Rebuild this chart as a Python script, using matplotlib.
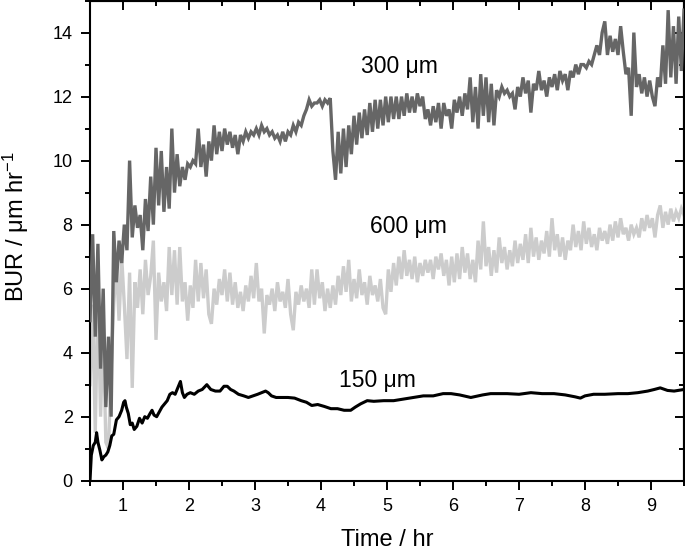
import numpy as np
import matplotlib
matplotlib.use("Agg")
import matplotlib.pyplot as plt
from matplotlib.ticker import MultipleLocator

plt.rcParams['font.family'] = ['Liberation Sans', 'DejaVu Sans']
plt.rcParams['mathtext.fontset'] = 'custom'
plt.rcParams['mathtext.rm'] = 'Liberation Sans'
plt.rcParams['mathtext.it'] = 'Liberation Sans:italic'

# ---------------- data ----------------
# sampling grid for the two noisy series (hours)
t_grid = np.round(np.arange(0.5, 9.5001, 0.04), 2)

bur_300 = [
    5.0, 7.7, 4.5, 7.4, 3.5, 6.0, 2.3, 4.5, 2.0, 7.8,
    6.2, 7.5, 6.8, 8.0, 7.2, 10.0, 7.6, 8.6, 7.9, 8.3,
    7.2, 8.8, 7.8, 9.5, 8.0, 10.4, 8.6, 10.3, 8.4, 9.8,
    8.5, 11.0, 9.0, 10.2, 9.2, 9.8, 9.4, 9.9, 9.8, 10.0,
    9.9, 11.0, 9.8, 10.5, 9.5, 10.6, 10.0, 11.1, 10.2, 10.9,
    10.3, 11.0, 10.5, 10.9, 10.4, 10.8, 10.2, 10.8, 10.6, 10.9,
    10.7, 10.9, 10.8, 11.0, 10.8, 11.1, 10.9, 11.0, 10.8, 10.9,
    10.7, 10.8, 10.6, 10.9, 10.6, 10.9, 10.8, 11.1, 10.9, 11.2,
    11.1, 11.4, 11.6, 11.9, 11.7, 11.8, 11.8, 11.9, 11.7, 11.9,
    11.8, 11.95, 10.3, 9.4, 10.9, 9.6, 11.0, 9.8, 11.1, 10.2,
    11.4, 10.5, 11.5, 10.7, 11.6, 10.8, 11.8, 10.9, 11.9, 11.0,
    11.9, 11.1, 12.0, 11.2, 12.0, 11.3, 12.0, 11.3, 12.0, 11.4,
    12.1, 11.5, 12.0, 11.5, 12.1, 11.7, 12.0, 11.3, 11.6, 11.1,
    11.7, 11.2, 11.8, 11.0, 11.8, 11.4, 11.6, 11.0, 11.9, 11.5,
    12.0, 11.4, 12.1, 11.6, 12.6, 11.2, 12.3, 11.0, 12.7, 11.4,
    12.6, 11.2, 12.4, 11.1, 12.2, 12.0, 12.3, 12.1, 12.2, 12.0,
    12.1, 11.6, 12.3, 12.0, 12.6, 12.1, 12.5, 11.5, 12.4, 12.2,
    12.8, 12.2, 12.5, 12.0, 12.6, 12.3, 12.7, 12.2, 12.8, 12.5,
    12.7, 12.2, 12.8, 12.6, 13.0, 12.7, 13.0, 13.0, 12.9, 13.1,
    13.0, 13.3, 13.6, 13.3, 14.0, 14.35, 13.3, 13.9, 13.4, 13.8,
    13.3, 14.2, 13.4, 12.7, 12.9, 11.4, 14.0, 12.3, 12.7, 12.1,
    12.6, 12.0, 12.5, 12.0, 11.7, 12.6, 12.3, 13.6, 12.4, 14.7,
    12.6, 14.2, 12.4, 14.5, 12.8, 14.7,
]

bur_600 = [
    3.0, 5.5, 1.5, 6.0, 2.0, 4.8, 1.2, 1.0, 3.5, 5.5,
    6.8, 5.0, 7.0, 5.5, 3.8, 6.5, 2.9, 6.2, 5.4, 6.6,
    5.2, 6.9, 5.8, 6.4, 7.5, 4.4, 6.5, 5.6, 6.2, 5.3,
    7.3, 5.8, 7.2, 5.5, 7.3, 5.6, 6.2, 5.0, 6.1, 5.4,
    6.9, 5.6, 6.8, 5.7, 6.6, 5.2, 4.9, 6.0, 5.5, 6.3,
    5.8, 6.6, 5.6, 6.5, 5.5, 6.2, 5.4, 5.9, 5.3, 6.1,
    5.6, 6.4, 5.7, 6.8, 5.6, 6.0, 4.6, 5.8, 5.5, 6.0,
    5.3, 6.2, 5.6, 5.9, 5.4, 6.3, 5.2, 4.7, 5.9, 5.5,
    6.1, 5.6, 6.0, 5.4, 6.6, 5.5, 6.6, 5.7, 6.2, 5.3,
    6.0, 5.4, 6.1, 5.5, 6.4, 5.8, 6.7, 5.9, 6.9, 5.6,
    6.3, 5.7, 6.6, 5.8, 6.2, 5.5, 6.4, 5.8, 6.1, 5.6,
    6.3, 5.4, 5.2, 6.6, 5.9, 6.8, 6.1, 7.0, 6.3, 7.2,
    6.4, 6.9, 6.3, 7.0, 6.2, 6.8, 6.4, 6.9, 6.5, 6.9,
    6.3, 7.0, 6.6, 7.1, 6.4, 6.9, 6.1, 7.0, 6.2, 7.1,
    6.3, 7.3, 6.5, 7.1, 6.3, 6.9, 6.2, 7.5, 6.6, 8.1,
    6.7, 7.3, 6.4, 7.2, 6.5, 7.6, 6.8, 7.3, 6.6, 7.2,
    6.7, 7.5, 6.8, 7.4, 6.9, 7.7, 6.8, 7.9, 7.0, 7.6,
    6.9, 7.5, 7.1, 7.8, 7.0, 8.2, 7.2, 7.7, 7.0, 7.6,
    6.9, 7.5, 7.2, 8.0, 7.3, 7.8, 7.2, 8.1, 7.4, 7.9,
    7.3, 7.7, 7.2, 7.9, 7.5, 7.8, 7.4, 8.0, 7.5, 8.1,
    7.6, 8.2, 7.7, 7.9, 7.5, 8.0, 7.7, 7.9, 7.6, 8.2,
    7.8, 8.3, 7.9, 8.2, 7.6, 8.3, 8.6, 7.9, 8.4, 8.0,
    8.5, 8.1, 8.4, 8.2, 8.5, 8.3,
]

t_150 = [
    0.50, 0.52, 0.55, 0.58, 0.60, 0.62, 0.65, 0.68, 0.71, 0.74,
    0.77, 0.80, 0.83, 0.86, 0.90, 0.94, 0.98, 1.01, 1.03, 1.05,
    1.08, 1.11, 1.14, 1.17, 1.21, 1.25, 1.29, 1.33, 1.37, 1.41,
    1.44, 1.47, 1.51, 1.55, 1.59, 1.63, 1.67, 1.71, 1.75, 1.79,
    1.83, 1.87, 1.90, 1.93, 1.97, 2.02, 2.08, 2.14, 2.20, 2.27,
    2.33, 2.40, 2.47, 2.53, 2.58, 2.63, 2.68, 2.75, 2.83, 2.90,
    2.97, 3.04, 3.10, 3.16, 3.20, 3.25, 3.32, 3.40, 3.50, 3.60,
    3.70, 3.78, 3.86, 3.95, 4.05, 4.15, 4.25, 4.35, 4.45, 4.52,
    4.60, 4.70, 4.80, 4.95, 5.10, 5.25, 5.40, 5.55, 5.70, 5.85,
    5.97, 6.10, 6.27, 6.45, 6.57, 6.70, 6.82, 7.00, 7.18, 7.35,
    7.53, 7.70, 7.85, 7.93, 8.00, 8.13, 8.30, 8.50, 8.65, 8.80,
    8.95, 9.05, 9.14, 9.25, 9.35, 9.50,
]
bur_150 = [
    0.0, 0.8, 1.1, 1.2, 1.5, 1.2, 0.95, 0.65, 0.75, 0.8,
    0.9, 1.1, 1.4, 1.45, 1.9, 2.0, 2.2, 2.45, 2.5, 2.3,
    2.1, 1.75, 1.8, 1.6, 1.7, 1.95, 1.8, 2.0, 1.95, 2.1,
    2.2, 2.05, 2.0, 2.15, 2.3, 2.4, 2.5, 2.7, 2.75, 2.7,
    2.9, 3.1, 2.75, 2.6, 2.7, 2.75, 2.7, 2.8, 2.85, 3.0,
    2.85, 2.8, 2.8, 2.95, 2.95, 2.85, 2.8, 2.7, 2.65, 2.6,
    2.65, 2.7, 2.75, 2.8, 2.75, 2.65, 2.6, 2.6, 2.6, 2.58,
    2.5, 2.45, 2.35, 2.38, 2.32, 2.25, 2.25, 2.2, 2.2, 2.3,
    2.4, 2.5, 2.48, 2.5, 2.5, 2.55, 2.6, 2.65, 2.65, 2.72,
    2.72, 2.68, 2.6, 2.68, 2.72, 2.72, 2.72, 2.7, 2.75, 2.72,
    2.72, 2.68, 2.62, 2.58, 2.65, 2.7, 2.7, 2.72, 2.72, 2.75,
    2.8, 2.85, 2.9, 2.82, 2.8, 2.85,
]

series_labels = ["300 \u03bcm", "600 \u03bcm", "150 \u03bcm"]
label_pos_t = [5.19, 5.32, 4.86]
label_pos_v = [12.75, 7.75, 2.93]

# ---------------- plot ----------------
fig = plt.figure(figsize=(6.85, 5.51), dpi=100)
ax = fig.add_axes([90/685, 1-480.7/551, 594/685, 480.7/551 - 0.001])

ax.plot(t_grid, bur_600, color='#cccccc', lw=2.4, zorder=2, solid_joinstyle='miter')
ax.plot(t_grid, bur_300, color='#666666', lw=2.4, zorder=3, solid_joinstyle='miter')
ax.plot(t_150, bur_150, color='black', lw=2.2, zorder=4)

for lab, tx, vy in zip(series_labels, label_pos_t, label_pos_v):
    ax.text(tx, vy, lab, ha='center', va='baseline', fontsize=16.5, color='black')

ax.set_xlim(0.5, 9.5)
ax.set_ylim(0, 15)
ax.set_xticks(range(1, 10))
ax.set_yticks(range(0, 15, 2))
ax.xaxis.set_minor_locator(MultipleLocator(0.5))
ax.yaxis.set_minor_locator(MultipleLocator(1))
ax.tick_params(which='major', direction='out', length=6.5, width=1.4, labelsize=13, pad=6)
ax.tick_params(which='minor', direction='out', length=3.5, width=1.4)
for s in ax.spines.values():
    s.set_linewidth(1.5)

secx = ax.secondary_xaxis('top')
secx.set_xticks(range(1, 10))
secx.xaxis.set_minor_locator(MultipleLocator(0.5))
secx.tick_params(which='major', direction='in', length=6.5, width=1.4, labeltop=False)
secx.tick_params(which='minor', direction='in', length=3.5, width=1.4)
secx.spines['top'].set_linewidth(1.5)

secy = ax.secondary_yaxis('right')
secy.set_yticks(range(0, 15, 2))
secy.yaxis.set_minor_locator(MultipleLocator(1))
secy.tick_params(which='major', direction='in', length=6.5, width=1.4, labelright=False)
secy.tick_params(which='minor', direction='in', length=3.5, width=1.4)
secy.spines['right'].set_linewidth(1.5)

ax.set_xlabel("Time / hr", fontsize=17, labelpad=10)
ax.set_ylabel("BUR / \u03bcm hr$^{-1}$", fontsize=17)
ax.yaxis.set_label_coords(-0.100, 0.53)

fig.savefig("out.png", dpi=100)
